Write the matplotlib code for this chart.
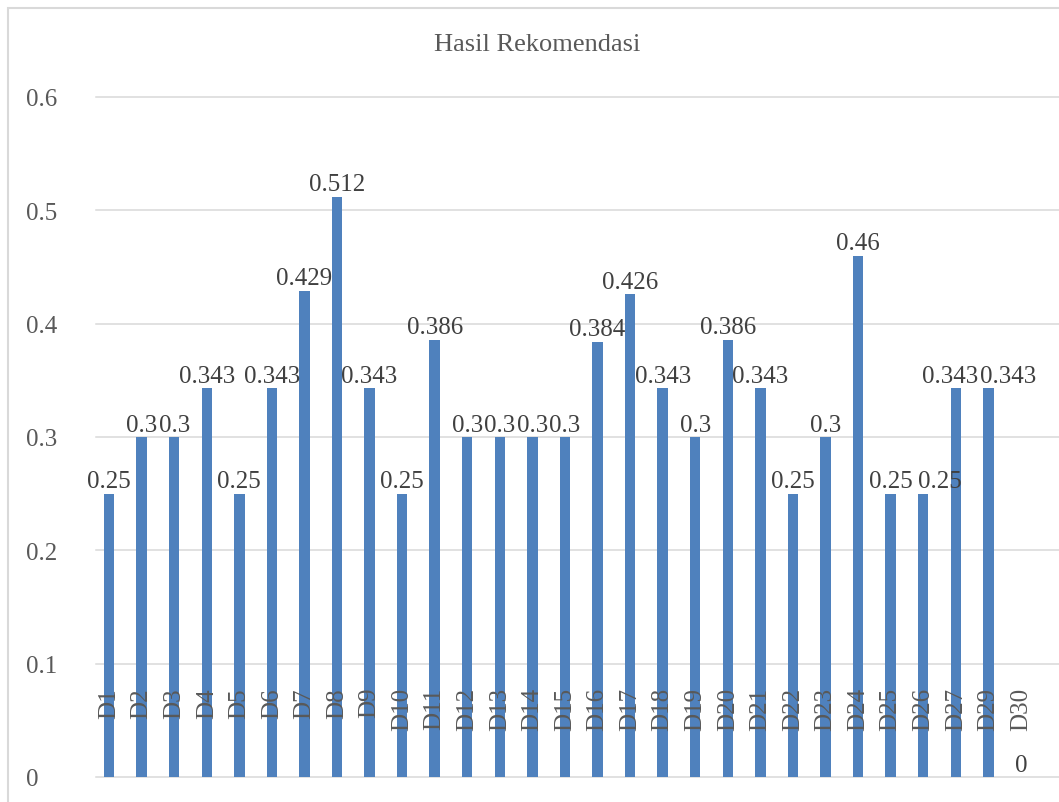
import matplotlib
matplotlib.use("Agg")
import matplotlib.pyplot as plt
from matplotlib.patches import Rectangle
import numpy as np

# Recommendation scores per document
categories = ["D1", "D2", "D3", "D4", "D5", "D6", "D7", "D8", "D9", "D10",
              "D11", "D12", "D13", "D14", "D15", "D16", "D17", "D18", "D19", "D20",
              "D21", "D22", "D23", "D24", "D25", "D26", "D27", "D29", "D30"]
scores = [0.25, 0.3, 0.3, 0.343, 0.25, 0.343, 0.429, 0.512, 0.343, 0.25,
          0.386, 0.3, 0.3, 0.3, 0.3, 0.384, 0.426, 0.343, 0.3, 0.386,
          0.343, 0.25, 0.3, 0.46, 0.25, 0.25, 0.343, 0.343, 0]
y_ticks = [0, 0.1, 0.2, 0.3, 0.4, 0.5, 0.6]
y_tick_labels = ["0", "0.1", "0.2", "0.3", "0.4", "0.5", "0.6"]
title = "Hasil Rekomendasi"

plt.rcParams["font.family"] = ["Liberation Serif", "DejaVu Serif"]

W, H = 1059, 803
fig = plt.figure(figsize=(W / 100, H / 100), dpi=100)
fig.patch.set_facecolor("white")

ax = fig.add_axes([96 / W, 25 / H, (W - 96) / W, 680 / H])
x = np.arange(len(categories))
bars = ax.bar(x, scores, width=0.32, color="#4F81BD", zorder=2)

ax.set_xlim(-0.4, 29.17)
ax.set_ylim(0, 0.6)
ax.set_yticks(y_ticks, y_tick_labels)
ax.set_xticks(x, categories, rotation=90)

ax.yaxis.grid(True, color="#D9D9D9", linewidth=1.1)
ax.xaxis.grid(False)
ax.set_axisbelow(True)
ax.xaxis.set_zorder(3)
for line in ax.get_ygridlines():
    line.set_clip_on(False)
for s in ax.spines.values():
    s.set_visible(False)

ax.tick_params(axis="x", length=0, pad=-64.8, labelsize=18, labelcolor="#595959")
ax.tick_params(axis="y", length=0, pad=50.4, labelsize=18, labelcolor="#595959")
plt.setp(ax.get_yticklabels(), ha="left")

# value labels above each bar; a few are nudged sideways so crowded
# neighbours stay readable
nudge_pt = {"D26": 12, "D27": -4, "D29": 14}
for xi, cat, v in zip(x, categories, scores):
    ax.annotate(f"{v:g}", xy=(xi, v), xytext=(nudge_pt.get(cat, 0), 1),
                textcoords="offset points", ha="center", va="bottom",
                fontsize=18, color="#404040", zorder=4, annotation_clip=False)

fig.text(537 / W, 1 - 45 / H, title, ha="center", va="center",
         fontsize=19, color="#595959")

# chart frame
fig.add_artist(Rectangle((8 / W, -0.05), 1.1, (H - 9) / H + 0.05,
                         transform=fig.transFigure, fill=False,
                         edgecolor="#D9D9D9", linewidth=1.5))

fig.savefig("out.png", dpi=100)
